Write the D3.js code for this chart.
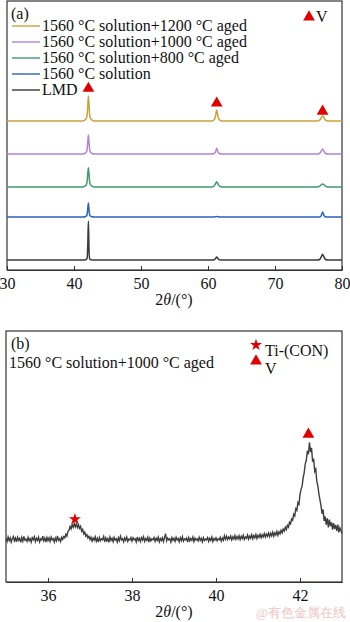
<!DOCTYPE html>
<html><head><meta charset="utf-8">
<script src="https://cdn.jsdelivr.net/npm/d3@7"></script>
<style>body{margin:0;background:#fff}svg{display:block}text{font-family:"Liberation Serif","Times New Roman",serif}</style>
</head><body>
<svg id="c" width="350" height="622"></svg>
<script>
// ---------- Panel (a) data ----------
const seriesNames = ["1560 °C solution+1200 °C aged","1560 °C solution+1000 °C aged","1560 °C solution+800 °C aged","1560 °C solution","LMD"];
const seriesColors = ["#c9a23a","#b483d6","#3f9b6e","#2a63c0","#3a3a3a"];
const seriesOffsets = [55.4, 43.1, 30.9, 19.7, 3.7];
const twoTheta = [30,41.3,41.75,41.95,42.05,42.15,42.25,42.35,42.55,43.0, 60.5,60.9,61.1,61.3,61.5,61.7,62.1, 76.3,76.7,76.9,77.1,77.3,77.5,77.9,80];
const int1200 = [0,0,0.6,2.0,5.5,9.3,5.5,2.0,0.6,0, 0,0.4,1.5,4.1,1.5,0.4,0, 0,0.4,1.2,1.9,1.2,0.4,0,0];
const int1000 = [0,0,0.4,1.6,4.5,7.1,4.2,1.5,0.4,0, 0,0.2,0.6,2.2,0.6,0.2,0, 0,0.3,1.1,1.9,1.1,0.3,0,0];
const int800  = [0,0,0.5,1.8,4.8,7.1,4.4,1.6,0.5,0, 0,0.3,1.0,1.9,1.0,0.3,0, 0,0.3,0.8,1.1,0.8,0.3,0,0];
const intSol  = [0,0,0.2,0.8,3.0,5.2,2.5,0.6,0.2,0, 0,0,0.1,0.2,0.1,0,0, 0,0,0.5,1.9,0.6,0.1,0,0];
const intLMD  = [0,0,0.1,0.6,5.0,14.5,3.0,0.4,0.1,0, 0,0.1,0.5,1.1,0.5,0.1,0, 0,0.3,1.2,2.2,1.2,0.3,0,0];
const seriesInts = [int1200,int1000,int800,intSol,intLMD];
const vPeaksA = [42.15, 61.3, 77.1];
const vMarkA = [67.5, 62.0, 59.0];
const xTicksA = [30,40,50,60,70,80];

// ---------- Panel (b) data (1560 °C solution+1000 °C aged, 35–43°, step 0.025°) ----------
const bStart = 35, bStep = 0.025;
const bInt = [
17.3,16.1,17.9,16.5,17.6,15.9,17.2,18.1,16.4,17.5,16.0,17.8,16.6,17.4,15.8,17.7,16.3,18.2,16.7,17.1,
16.2,17.8,16.5,17.3,15.9,17.6,16.8,18.0,16.1,17.4,16.6,17.9,16.0,17.2,16.7,18.3,16.4,17.5,15.9,17.7,
16.5,17.6,16.2,17.9,16.8,17.3,15.9,17.5,16.4,18.4,16.6,17.2,16.1,17.8,17.0,18.1,17.6,19.0,18.3,20.2,
20.6,22.1,21.2,22.9,21.8,23.3,22.0,23.1,21.7,22.8,21.4,22.2,20.3,21.0,19.2,19.9,18.3,18.9,17.6,18.2,
16.9,17.8,16.3,17.5,16.7,18.0,16.2,17.4,15.9,17.7,16.5,17.2,16.8,18.1,16.0,17.6,16.4,17.3,15.8,17.9,
16.6,17.4,16.1,17.8,16.7,17.2,15.9,17.6,16.4,18.2,16.8,17.3,16.0,17.5,16.6,17.9,16.2,17.1,16.7,17.7,
16.3,17.6,16.8,17.2,15.9,17.9,16.5,17.4,16.1,17.7,16.7,18.0,16.2,17.3,16.6,17.8,15.9,17.5,16.4,17.2,
16.8,17.7,16.2,17.4,16.6,17.9,16.0,17.3,16.5,17.6,16.1,17.8,19.2,16.4,17.5,16.8,17.2,15.9,17.7,16.6,
17.4,16.2,17.8,16.7,17.3,16.0,17.6,16.5,18.0,16.3,17.2,16.8,17.5,15.9,17.7,16.4,17.3,16.6,17.9,16.1,
17.5,16.7,17.2,16.3,17.8,16.6,17.4,16.0,17.6,16.5,17.1,16.8,17.7,16.2,17.4,16.6,17.9,16.1,17.3,16.7,
17.6,16.4,17.2,16.8,17.8,16.3,17.5,16.6,18.4,17.0,18.2,16.9,17.9,17.2,18.3,16.8,18.0,17.1,18.5,17.0,
18.1,17.2,18.4,16.9,18.2,17.3,18.6,17.0,17.9,17.4,18.7,17.1,18.3,17.5,18.8,17.2,18.5,17.6,18.9,17.3,
18.6,17.8,19.0,17.6,18.8,18.0,19.3,17.9,19.1,18.2,19.5,18.1,19.4,18.4,19.8,18.3,19.6,18.7,20.1,18.6,
20.0,19.2,20.6,19.6,21.1,20.3,21.8,20.9,22.6,21.9,23.8,23.2,25.1,24.6,27.0,26.3,29.2,28.5,31.6,30.9,
34.8,36.9,38.2,41.5,43.6,47.1,48.4,52.3,50.9,55.6,51.8,53.4,47.9,49.2,44.1,45.0,40.2,38.3,35.1,32.7,
30.4,27.2,28.9,24.3,26.1,22.8,25.4,21.7,24.9,22.3,23.8,20.9,23.5,21.2,22.7,20.4,22.9,19.8,21.6,20.5,
19.3];
const xTicksB = [36,38,40,42];
const markStar = [36.64, 25.0];
const markTri = [42.2, 58.8];

const svg = d3.select("#c");
const serif = '"Liberation Serif","Times New Roman",serif';
const FS = 16;

// ===== Panel (a) =====
const xA = d3.scaleLinear().domain([30,80]).range([7,342]);
const yA = d3.scaleLinear().domain([0,100]).range([270,1]);
svg.append("rect").attr("x",7).attr("y",1).attr("width",335).attr("height",269)
  .attr("fill","none").attr("stroke","#333").attr("stroke-width",1.2);
const axA = svg.append("g").attr("transform","translate(0,270)")
  .call(d3.axisBottom(xA).tickValues(xTicksA).tickSizeInner(-4).tickSizeOuter(0).tickPadding(8));
axA.select(".domain").attr("stroke","#333").attr("stroke-width",1.2);
axA.selectAll("line").attr("stroke","#333");
axA.selectAll("text").attr("font-family",serif).attr("font-size",FS).attr("fill","#111");
svg.append("text").attr("x",174).attr("y",305).attr("text-anchor","middle").attr("font-size",FS).attr("fill","#111")
  .html('2<tspan font-style="italic">θ</tspan>/(°)');

const lineA = d3.line().x(d=>xA(d[0])).y(d=>yA(d[1])).curve(d3.curveMonotoneX);
seriesInts.forEach((arr,i)=>{
  const pts = twoTheta.map((t,j)=>[t, seriesOffsets[i]+arr[j]]);
  svg.append("path").attr("d",lineA(pts)).attr("fill","none").attr("stroke",seriesColors[i]).attr("stroke-width",1.5);
});
const tri = d3.symbol().type(d3.symbolTriangle).size(60);
vPeaksA.forEach((p,i)=>{
  svg.append("path").attr("d",tri()).attr("fill","#e00000").attr("transform",`translate(${xA(p)},${yA(vMarkA[i])})`);
});
svg.append("text").attr("x",11).attr("y",19).attr("font-size",FS).attr("fill","#111").text("(a)");
seriesNames.forEach((n,i)=>{
  const y = 26 + i*16;
  svg.append("line").attr("x1",12).attr("x2",40).attr("y1",y).attr("y2",y).attr("stroke",seriesColors[i]).attr("stroke-width",1.4);
  svg.append("text").attr("x",42).attr("y",y+5).attr("font-size",FS).attr("fill","#111").text(n);
});
svg.append("path").attr("d",tri()).attr("fill","#e00000").attr("transform","translate(309,17)");
svg.append("text").attr("x",316).attr("y",22).attr("font-size",FS).attr("fill","#111").text("V");

// ===== Panel (b) =====
const xB = d3.scaleLinear().domain([35,43]).range([6,342]);
const yB = d3.scaleLinear().domain([0,100]).range([582,331]);
svg.append("rect").attr("x",6).attr("y",331).attr("width",336).attr("height",251)
  .attr("fill","none").attr("stroke","#333").attr("stroke-width",1.2);
const axB = svg.append("g").attr("transform","translate(0,582)")
  .call(d3.axisBottom(xB).tickValues(xTicksB).tickSizeInner(-4).tickSizeOuter(0).tickPadding(8));
axB.select(".domain").attr("stroke","#333").attr("stroke-width",1.2);
axB.selectAll("line").attr("stroke","#333");
axB.selectAll("text").attr("font-family",serif).attr("font-size",FS).attr("fill","#111");
svg.append("text").attr("x",174).attr("y",617).attr("text-anchor","middle").attr("font-size",FS).attr("fill","#111")
  .html('2<tspan font-style="italic">θ</tspan>/(°)');

const lineB = d3.line().x((d,i)=>xB(bStart+i*bStep)).y(d=>yB(d));
svg.append("path").attr("d",lineB(bInt)).attr("fill","none").attr("stroke","#3e3e3e").attr("stroke-width",1.4);

svg.append("path").attr("d",d3.symbol().type(d3.symbolStar).size(45)()).attr("fill","#e00000")
  .attr("transform",`translate(${xB(markStar[0])},${yB(markStar[1])})`);
svg.append("path").attr("d",tri()).attr("fill","#e00000")
  .attr("transform",`translate(${xB(markTri[0])},${yB(markTri[1])})`);

svg.append("text").attr("x",11).attr("y",349).attr("font-size",FS).attr("fill","#111").text("(b)");
svg.append("text").attr("x",9).attr("y",368).attr("font-size",FS).attr("fill","#111").text("1560 °C solution+1000 °C aged");
svg.append("path").attr("d",d3.symbol().type(d3.symbolStar).size(45)()).attr("fill","#e00000").attr("transform","translate(256,345)");
svg.append("text").attr("x",265).attr("y",356).attr("font-size",FS).attr("fill","#111").text("Ti-(CON)");
svg.append("path").attr("d",tri()).attr("fill","#e00000").attr("transform","translate(256,361)");
svg.append("text").attr("x",265).attr("y",374).attr("font-size",FS).attr("fill","#111").text("V");

svg.append("text").attr("x",346).attr("y",617).attr("text-anchor","end").attr("font-family","'Noto Sans CJK SC',sans-serif")
  .attr("font-size",13).attr("fill","#f0c4c4").text("@有色金属在线");
</script>
</body></html>
